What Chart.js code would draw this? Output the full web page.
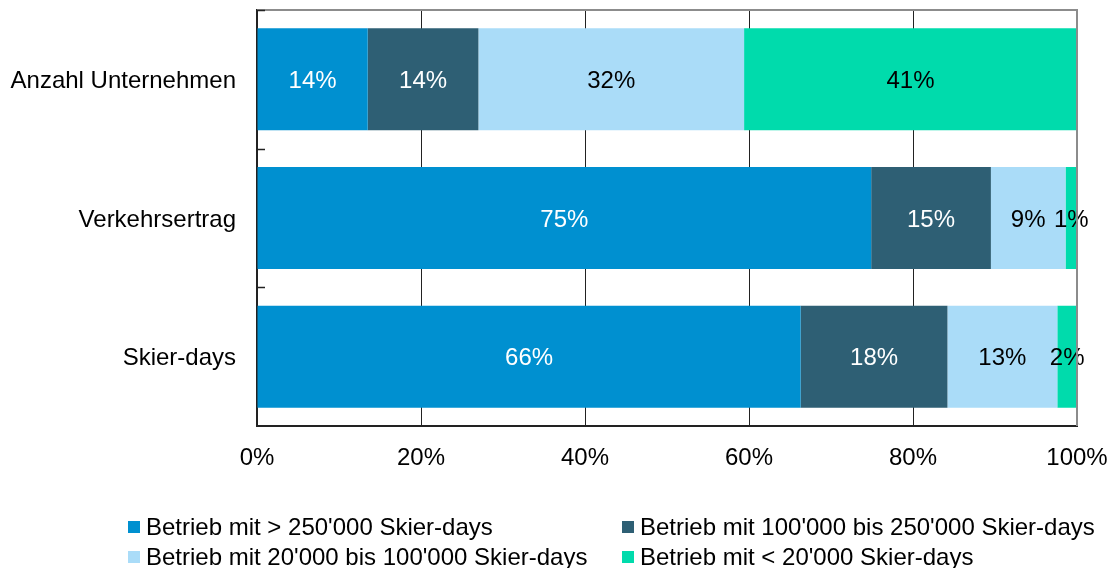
<!DOCTYPE html>
<html>
<head>
<meta charset="utf-8">
<script src="https://cdn.jsdelivr.net/npm/chart.js@4/dist/chart.umd.min.js"></script>
<style>
  body { margin: 0; background: #fff; }
  #wrap { position: relative; width: 1111px; height: 568px; }
  #legend { position: absolute; left: 0; top: 0; font-family: 'Liberation Sans', Arial, sans-serif; font-size: 24px; color: #000; }
  .item { position: absolute; height: 30px; display: flex; align-items: center; white-space: nowrap; }
  .box { width: 12px; height: 12px; margin-right: 6px; }
</style>
</head>
<body>
<div id="wrap">
  <canvas id="myChart" width="1111" height="568"></canvas>
  <div id="legend"></div>
</div>
<script>
const categories = ['Anzahl Unternehmen', 'Verkehrsertrag', 'Skier-days'];
const seriesNames = [
  "Betrieb mit > 250'000 Skier-days",
  "Betrieb mit 100'000 bis 250'000 Skier-days",
  "Betrieb mit 20'000 bis 100'000 Skier-days",
  "Betrieb mit < 20'000 Skier-days"
];
const over250k = [13.5, 74.9, 66.3];
const from100kTo250k = [13.5, 14.6, 17.9];
const from20kTo100k = [32.4, 9.1, 13.4];
const under20k = [40.6, 1.4, 2.4];
const xTicks = [0, 20, 40, 60, 80, 100];

const colors = ['#0090d0', '#2e5f74', '#aadcf8', '#00dbac'];
const labelColors = ['#fff', '#fff', '#000', '#000'];
const font = "'Liberation Sans', Arial, sans-serif";

const data = {
  labels: categories,
  datasets: [over250k, from100kTo250k, from20kTo100k, under20k].map((vals, i) => ({
    label: seriesNames[i],
    data: vals,
    backgroundColor: colors[i],
    borderWidth: 0,
    barPercentage: 0.735,
    categoryPercentage: 1
  }))
};

// labels in the middle of every segment
const segmentLabels = {
  id: 'segmentLabels',
  afterDatasetsDraw(chart) {
    const ctx = chart.ctx;
    ctx.save();
    ctx.font = '24px ' + font;
    ctx.textAlign = 'center';
    ctx.textBaseline = 'middle';
    chart.data.datasets.forEach((ds, i) => {
      chart.getDatasetMeta(i).data.forEach((bar, j) => {
        ctx.fillStyle = labelColors[i];
        ctx.fillText(Math.round(ds.data[j]) + '%', (bar.x + bar.base) / 2, bar.y + 2);
      });
    });
    ctx.restore();
  }
};

// gray top/right frame and small inner ticks on the category axis
const frame = {
  id: 'frame',
  afterDatasetsDraw(chart) {
    const ctx = chart.ctx;
    const a = chart.chartArea;
    const y = chart.scales.y;
    ctx.save();
    ctx.strokeStyle = '#8c8c8c';
    ctx.lineWidth = 2;
    ctx.beginPath();
    ctx.moveTo(a.left, a.top);
    ctx.lineTo(a.right, a.top);
    ctx.lineTo(a.right, a.bottom);
    ctx.stroke();
    ctx.strokeStyle = '#222';
    ctx.lineWidth = 1.5;
    for (let i = 0; i <= categories.length - 1; i++) {
      const py = Math.round(y.getPixelForValue(i - 0.5)) + 0.5;
      ctx.beginPath();
      ctx.moveTo(a.left, py);
      ctx.lineTo(a.left + 8, py);
      ctx.stroke();
    }
    ctx.restore();
  }
};

const config = {
  type: 'bar',
  data: data,
  plugins: [segmentLabels, frame],
  options: {
    indexAxis: 'y',
    responsive: false,
    animation: false,
    layout: { padding: { left: 10, top: 10, right: 34, bottom: 82 } },
    plugins: { legend: { display: false }, tooltip: { enabled: false } },
    scales: {
      x: {
        stacked: true,
        min: 0,
        max: 100,
        afterBuildTicks: s => { s.ticks = xTicks.map(v => ({ value: v })); },
        afterFit: s => { s.height = 60; s.paddingLeft = 0; s.paddingRight = 0; },
        grid: {
          color: c => (c.tick && c.tick.value === 100) ? '#8c8c8c' : '#222',
          lineWidth: 1,
          drawTicks: false
        },
        border: { color: '#222', width: 2 },
        ticks: {
          color: '#000',
          font: { family: font, size: 24 },
          padding: 18,
          callback: v => v + '%'
        }
      },
      y: {
        stacked: true,
        afterFit: s => { s.width = 247; s.paddingTop = 0; s.paddingBottom = 0; },
        grid: { display: false },
        border: { color: '#222', width: 2 },
        ticks: {
          color: '#000',
          font: { family: font, size: 24 },
          padding: 13,
          labelOffset: 2
        }
      }
    }
  }
};

const myChart = new Chart(document.getElementById('myChart'), config);

// legend in two columns under the plot
const legendPos = [[128, 512], [622, 512], [128, 542], [622, 542]];
const legend = document.getElementById('legend');
seriesNames.forEach((name, i) => {
  const item = document.createElement('div');
  item.className = 'item';
  item.style.left = legendPos[i][0] + 'px';
  item.style.top = legendPos[i][1] + 'px';
  item.innerHTML = '<span class="box" style="background:' + colors[i] + '"></span><span></span>';
  item.lastChild.textContent = name;
  legend.appendChild(item);
});
</script>
</body>
</html>
